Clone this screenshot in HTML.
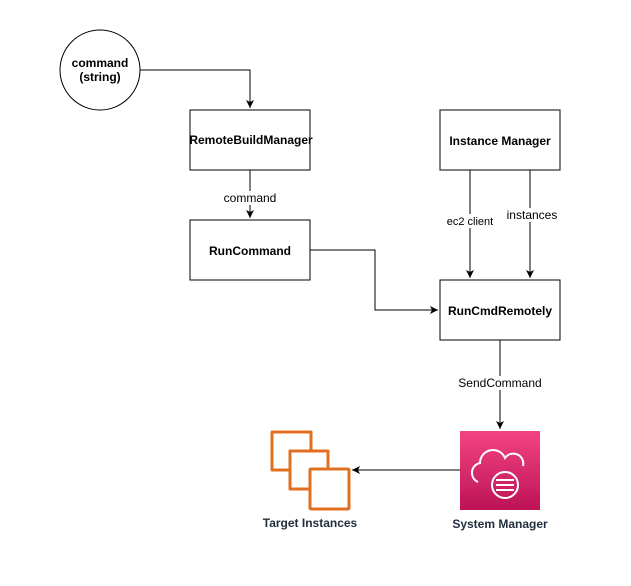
<!DOCTYPE html>
<html><head><style>body{margin:0;background:#fff}</style></head><body>
<svg width="631" height="581" viewBox="0 0 631 581" xmlns="http://www.w3.org/2000/svg" font-family="Liberation Sans, Arial, sans-serif">
<defs><marker id="a" markerWidth="10" markerHeight="10" refX="8" refY="5" orient="auto" markerUnits="userSpaceOnUse"><path d="M0,1 L8,5 L0,9 L2,5 Z" fill="#000"/></marker>
<linearGradient id="g" x1="0" y1="0" x2="0" y2="1"><stop offset="0" stop-color="#f34482"/><stop offset="1" stop-color="#bc1356"/></linearGradient></defs>
<g fill="none" stroke="#000" stroke-width="1">
<circle cx="100" cy="70" r="40"/>
<rect x="190" y="110" width="120" height="60"/>
<rect x="190" y="220" width="120" height="60"/>
<rect x="440" y="110" width="120" height="60"/>
<rect x="440" y="280" width="120" height="60"/>
<path d="M140,70 H250 V108" marker-end="url(#a)"/>
<path d="M250,170 V218" marker-end="url(#a)"/>
<path d="M310,250 H375 V310 H438" marker-end="url(#a)"/>
<path d="M470,170 V278" marker-end="url(#a)"/>
<path d="M530,170 V278" marker-end="url(#a)"/>
<path d="M500,340 V429" marker-end="url(#a)"/>
<path d="M460,470 H352" marker-end="url(#a)"/>
</g>
<g font-size="12" text-anchor="middle" font-weight="bold">
<text x="100" y="67">command</text><text x="100" y="81">(string)</text>
<text x="251" y="144">RemoteBuildManager</text>
<text x="250" y="255">RunCommand</text>
<text x="500" y="145">Instance Manager</text>
<text x="500" y="315">RunCmdRemotely</text>
<text x="310" y="527" fill="#232f3e">Target Instances</text>
<text x="500" y="528" fill="#232f3e">System Manager</text>
</g>
<g font-size="12" text-anchor="middle">
<rect x="220" y="191" width="60" height="14" fill="#fff"/>
<text x="250" y="202">command</text>
<rect x="445" y="214" width="52" height="14" fill="#fff"/>
<text x="470" y="225" font-size="11">ec2 client</text>
<rect x="505" y="208" width="52" height="14" fill="#fff"/>
<text x="532" y="219">instances</text>
<rect x="460" y="376" width="80" height="14" fill="#fff"/>
<text x="500" y="387">SendCommand</text>
</g>
<rect x="460" y="431" width="80" height="79" fill="url(#g)"/>
<g fill="none" stroke="#fff" stroke-width="2">
<path d="M478,482 a10,10 0 0 1 2,-19 a13,13 0 0 1 25,-5 a10,10 0 0 1 18,8"/>
<circle cx="505" cy="485" r="13"/>
<path d="M496,480 H514 M496,485 H514 M496,490 H514"/>
</g>
<g fill="none" stroke="#e07020" stroke-width="3" stroke-linejoin="round">
<path d="M289,470 H272 V432 H311 V450"/>
<path d="M309,489 H290 V451 H328 V468"/>
<rect x="310" y="469" width="39" height="40" rx="1"/>
</g>
</svg>
</body></html>
